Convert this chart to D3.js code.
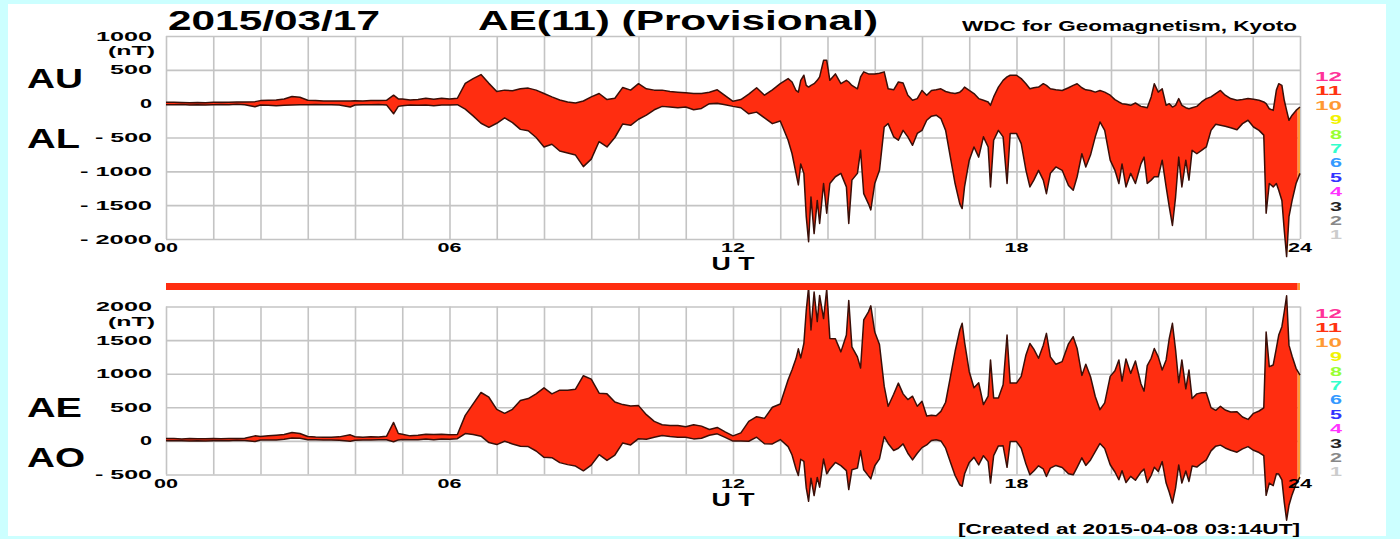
<!DOCTYPE html>
<html>
<head>
<meta charset="utf-8">
<script src="https://cdn.jsdelivr.net/npm/d3@7"></script>
<style>
  html, body { margin: 0; padding: 0; background: #ccffff; }
  svg { display: block; }
  text { font-family: "Liberation Sans", Arial, Helvetica, sans-serif; font-weight: bold; }
</style>
</head>
<body>
<script>
// sample times (minutes of the day, UT)
const minutes = [0,10,20,30,40,50,60,70,80,90,100,113,120,130,140,150,160,170,180,190,200,210,220,234,240,250,260,270,280,289,295,300,310,320,330,340,350,360,
  370,380,390,400,410,420,430,440,450,460,470,480,490,500,510,520,530,540,550,560,570,580,590,600,610,620,630,640,650,660,670,680,690,700,710,720,
  730,740,750,760,770,780,790,795,800,803,806,810,813,816,819,823,827,830,835,839,843,850,857,864,867,871,878,882,886,892,895,900,906,912,917,924,930,936,942,948,954,960,966,972,978,984,990,996,1002,1008,1011,1014,1020,1026,1032,1038,1044,1047,1051,1057,1063,1068,1072,1080,
  1086,1092,1097,1102,1108,1114,1118,1123,1130,1138,1146,1152,1157,1163,1168,1174,1180,1186,1192,1199,1205,1210,1214,1219,1225,1231,1238,1242,1246,1251,1255,1260,1265,1270,1274,1278,1282,1286,1290,1295,1299,1303,1309,1315,1321,1327,1333,1339,1345,1352,1360,1367,1374,1381,1388,1394,1397,1401,1406,1410,1413,1417,1420,1423,1426,1430,1435,1440];

const au = [20,20,18,15,18,15,20,20,22,25,25,30,45,50,55,70,105,95,50,45,40,38,40,40,42,40,45,45,50,125,70,70,55,60,80,65,80,70,
  80,300,370,430,300,180,200,190,220,230,200,150,100,55,25,10,40,100,150,60,80,240,200,295,220,200,200,180,170,160,150,150,170,205,120,35,
  60,140,235,125,205,295,370,320,195,170,345,420,270,245,270,295,345,395,640,640,345,440,295,345,320,270,220,395,470,440,440,440,450,470,220,205,320,305,125,50,75,195,125,195,205,220,180,160,150,170,200,245,195,150,75,50,25,-25,100,245,345,395,420,420,
  370,295,220,235,245,295,270,220,205,195,235,270,295,235,205,195,170,195,170,125,60,25,0,-10,-25,10,-40,-50,-60,100,295,170,220,-25,0,-50,-25,75,-25,-60,-75,-60,-40,25,75,100,150,195,125,75,50,60,75,65,50,25,0,-75,-100,200,295,270,50,-100,-245,-170,-100,-50];

const al = [-15,-15,-12,-20,-15,-18,-15,-12,-15,-10,-15,-45,-20,-25,-30,-25,-20,-15,-15,-12,-15,-15,-20,-50,-20,-15,-15,-12,-18,-150,-40,-30,-20,-25,-20,-30,-20,-20,
  -15,-80,-180,-290,-350,-290,-210,-280,-380,-400,-500,-640,-600,-700,-730,-760,-930,-820,-560,-640,-500,-300,-320,-230,-170,-90,-40,-50,-60,-50,-90,-70,0,5,-15,-40,
  -60,-150,-125,-210,-295,-255,-540,-740,-1030,-1200,-890,-1030,-1670,-2040,-1380,-1920,-1430,-1770,-1180,-1620,-1180,-1080,-1030,-1230,-1770,-1130,-1030,-690,-1330,-1480,-1570,-1180,-985,-345,-295,-490,-540,-395,-490,-615,-440,-395,-245,-185,-170,-220,-395,-790,-1180,-1480,-1550,-1230,-835,-640,-790,-490,-640,-1230,-540,-395,-490,-1180,-440,-440,
  -590,-985,-1230,-1130,-985,-1130,-1330,-1030,-935,-985,-1210,-1280,-1080,-740,-935,-760,-490,-270,-395,-835,-985,-1180,-890,-1230,-1030,-1180,-890,-790,-1180,-1130,-1080,-1080,-835,-1230,-1525,-1800,-1380,-790,-1230,-835,-1130,-690,-740,-690,-640,-395,-305,-320,-335,-355,-385,-295,-245,-345,-395,-465,-1620,-1180,-1230,-1180,-1280,-1430,-1870,-2260,-1670,-1430,-1180,-1030];

const ae = [35,35,30,35,33,33,35,32,37,35,40,75,65,75,85,95,125,110,65,57,55,53,60,90,62,55,60,57,68,275,110,100,75,85,100,95,100,90,
  95,380,550,720,650,470,410,470,600,630,700,790,700,755,755,770,970,920,710,700,580,540,520,525,390,290,240,230,230,210,240,220,170,200,135,75,
  120,290,360,335,500,550,910,1060,1225,1370,1235,1450,1940,2285,1650,2215,1775,2165,1820,2260,1525,1520,1325,1575,2090,1400,1250,1085,1800,1920,2010,1620,1435,815,515,695,860,700,615,665,515,590,370,380,375,440,575,950,1330,1650,1750,1475,1030,790,865,540,665,1205,640,640,835,1575,860,860,
  960,1280,1450,1365,1230,1425,1600,1250,1140,1180,1445,1550,1375,975,1140,955,660,465,565,960,1045,1205,890,1220,1005,1190,850,740,1120,1230,1375,1250,1055,1205,1525,1750,1355,865,1205,775,1055,630,700,715,715,495,455,515,460,430,435,355,320,410,445,490,1620,1105,1130,1380,1575,1700,1920,2160,1425,1260,1080,980];

const ao = [3,3,3,-3,2,-2,3,4,4,8,5,-8,13,13,13,23,43,40,18,17,13,12,10,-5,11,13,15,17,16,-13,15,20,18,18,30,18,30,25,
  33,110,95,70,-25,-55,-5,-45,-80,-85,-150,-245,-250,-323,-353,-375,-445,-360,-205,-290,-210,-30,-60,33,25,55,80,65,55,55,30,40,85,105,53,-3,
  0,-5,55,-43,-45,20,-85,-210,-418,-515,-273,-305,-700,-898,-555,-813,-543,-688,-270,-490,-418,-320,-368,-443,-725,-430,-405,-148,-430,-520,-565,-370,-268,63,-38,-143,-110,-45,-183,-283,-183,-100,-60,5,18,0,-108,-315,-515,-655,-675,-493,-320,-245,-358,-220,-308,-628,-220,-75,-73,-393,-10,-10,
  -110,-345,-505,-448,-370,-418,-530,-405,-365,-395,-488,-505,-393,-253,-365,-283,-160,-38,-113,-355,-463,-578,-445,-620,-528,-585,-465,-420,-620,-515,-393,-455,-308,-628,-763,-925,-703,-358,-628,-448,-603,-375,-390,-333,-283,-148,-78,-63,-105,-140,-168,-118,-85,-140,-173,-220,-810,-628,-665,-490,-493,-580,-910,-1180,-958,-800,-640,-540];

// number of contributing stations per time segment
const segStart = [0, 1437];
const segEnd = [1437, 1440];
const segCount = [11, 10];

// station-count colour key (index 0 -> "1")
const keyLabels = ['1','2','3','4','5','6','7','8','9','10','11','12'];
const keyColors = ['#cccccc','#888888','#222222','#ff33ff','#3333ff','#3399ff','#33ffcc','#99ff33','#f2f200','#ff9933','#ff3311','#ff3399'];

const hourTicks = [0, 6, 12, 18, 24];
const hourLabels = ['00', '06', '12', '18', '24'];
const topTicks = [1000, 500, 0, -500, -1000, -1500, -2000];
const topLabels = ['1000', '500', '0', '- 500', '- 1000', '- 1500', '- 2000'];
const botTicks = [2000, 1500, 1000, 500, 0, -500];
const botLabels = ['2000', '1500', '1000', '500', '0', '- 500'];

const W = 1400, H = 539;
const fillColor = '#ff2d10';
const edgeColor = '#3a0f08';
const gridColor = '#c4c4c4';

const svg = d3.select('body').append('svg')
  .attr('width', W)
  .attr('height', H);

svg.append('rect').attr('width', W).attr('height', H).attr('fill', '#ccffff');
svg.append('rect').attr('x', 8).attr('y', 4).attr('width', 1378).attr('height', 532).attr('fill', '#fff');

const x = d3.scaleLinear().domain([0, 1440]).range([166, 1300]);
const rowIdx = d3.range(minutes.length);
const colorOf = c => keyColors[c - 1];

// put text in a fixed box width (the original is stretched horizontally)
const label = (g, str, px, py, size, width, anchor) => g.append('text')
  .attr('x', px)
  .attr('y', py)
  .attr('font-size', size)
  .attr('text-anchor', anchor || 'start')
  .attr('textLength', width)
  .attr('lengthAdjust', 'spacingAndGlyphs')
  .attr('fill', '#000')
  .text(str);

const panel = (opt) => {
  const y = d3.scaleLinear().domain(opt.domain).range(opt.range);
  const g = svg.append('g');

  // grid
  g.append('g')
    .attr('transform', `translate(0, ${opt.range[0]})`)
    .call(d3.axisBottom(x).tickValues(d3.range(0, 1441, 60)).tickSize(-(opt.range[0] - opt.range[1])).tickFormat(''))
    .call(a => a.select('.domain').remove())
    .selectAll('line').attr('stroke', gridColor).attr('stroke-width', 1.6);
  g.append('g')
    .attr('transform', `translate(${x(0)}, 0)`)
    .call(d3.axisLeft(y).tickValues(opt.ticks).tickSize(-(x(1440) - x(0))).tickFormat(''))
    .call(a => a.select('.domain').remove())
    .selectAll('line').attr('stroke', gridColor).attr('stroke-width', 1.6);

  // filled band, coloured by station count
  const area = d3.area()
    .x(i => x(minutes[i]))
    .y0(i => y(opt.lower[i]))
    .y1(i => y(opt.upper[i]));
  segStart.forEach((s, k) => {
    const id = `clip-${opt.name}-${k}`;
    g.append('clipPath').attr('id', id)
      .append('rect')
        .attr('x', x(s)).attr('y', 0)
        .attr('width', x(segEnd[k]) - x(s)).attr('height', H);
    g.append('path')
      .attr('clip-path', `url(#${id})`)
      .attr('d', area(rowIdx))
      .attr('fill', k === 0 ? fillColor : colorOf(segCount[k]));
  });

  const line = arr => d3.line().x(i => x(minutes[i])).y(i => y(arr[i]))(rowIdx);
  [opt.upper, opt.lower].forEach(arr => {
    g.append('path')
      .attr('d', line(arr))
      .attr('fill', 'none')
      .attr('stroke', edgeColor)
      .attr('stroke-width', 1.5)
      .attr('stroke-linejoin', 'round');
  });

  // y labels
  opt.ticks.forEach((t, i) => {
    const w = opt.labels[i].length === 1 ? 12 : opt.labels[i].length === 3 ? 42 : opt.labels[i].startsWith('-') ? (opt.labels[i].length === 5 ? 57 : 72) : 56;
    label(g, opt.labels[i], 152, y(t) + 4.5, 13, w, 'end');
  });
  label(g, '(nT)', 155, y(opt.ticks[0]) + 19, 13, 47, 'end');

  // hour labels
  hourTicks.forEach((h, i) => label(g, hourLabels[i], x(h * 60), opt.range[0] + 13, 13, 24, 'middle'));
  label(g, 'U T', x(720), opt.range[0] + 31, 18, 43, 'middle');

  // index names
  label(g, opt.names[0], 27, opt.nameY[0], 27, opt.nameW[0]);
  label(g, opt.names[1], 27, opt.nameY[1], 27, opt.nameW[1]);

  // station-count key
  keyLabels.forEach((k, i) => {
    svg.append('text')
      .attr('x', 1342)
      .attr('y', opt.keyTop + (11 - i) * 14.4)
      .attr('font-size', 13)
      .attr('text-anchor', 'end')
      .attr('textLength', k.length === 2 ? 27 : 12)
      .attr('lengthAdjust', 'spacingAndGlyphs')
      .attr('fill', keyColors[i])
      .text(k);
  });
};

panel({
  name: 'top', domain: [-2000, 1000], range: [239, 36],
  ticks: topTicks, labels: topLabels, upper: au, lower: al,
  names: ['AU', 'AL'], nameY: [88, 148], nameW: [56, 53], keyTop: 81
});

panel({
  name: 'bot', domain: [-500, 2000], range: [474.5, 306.5],
  ticks: botTicks, labels: botLabels, upper: ae, lower: ao,
  names: ['AE', 'AO'], nameY: [417, 467], nameW: [55, 58], keyTop: 318
});

// station-count strip between the panels
segStart.forEach((s, k) => {
  svg.append('rect')
    .attr('x', x(s)).attr('y', 283)
    .attr('width', x(segEnd[k]) - x(s)).attr('height', 7)
    .attr('fill', k === 0 ? fillColor : colorOf(segCount[k]));
});

// titles
label(svg, '2015/03/17', 168, 30, 27, 212);
label(svg, 'AE(11) (Provisional)', 478, 30, 27, 400);
label(svg, 'WDC for Geomagnetism, Kyoto', 962, 31, 15, 335);
label(svg, '[Created at 2015-04-08 03:14UT]', 1300, 534, 15, 342, 'end');
</script>
</body>
</html>
